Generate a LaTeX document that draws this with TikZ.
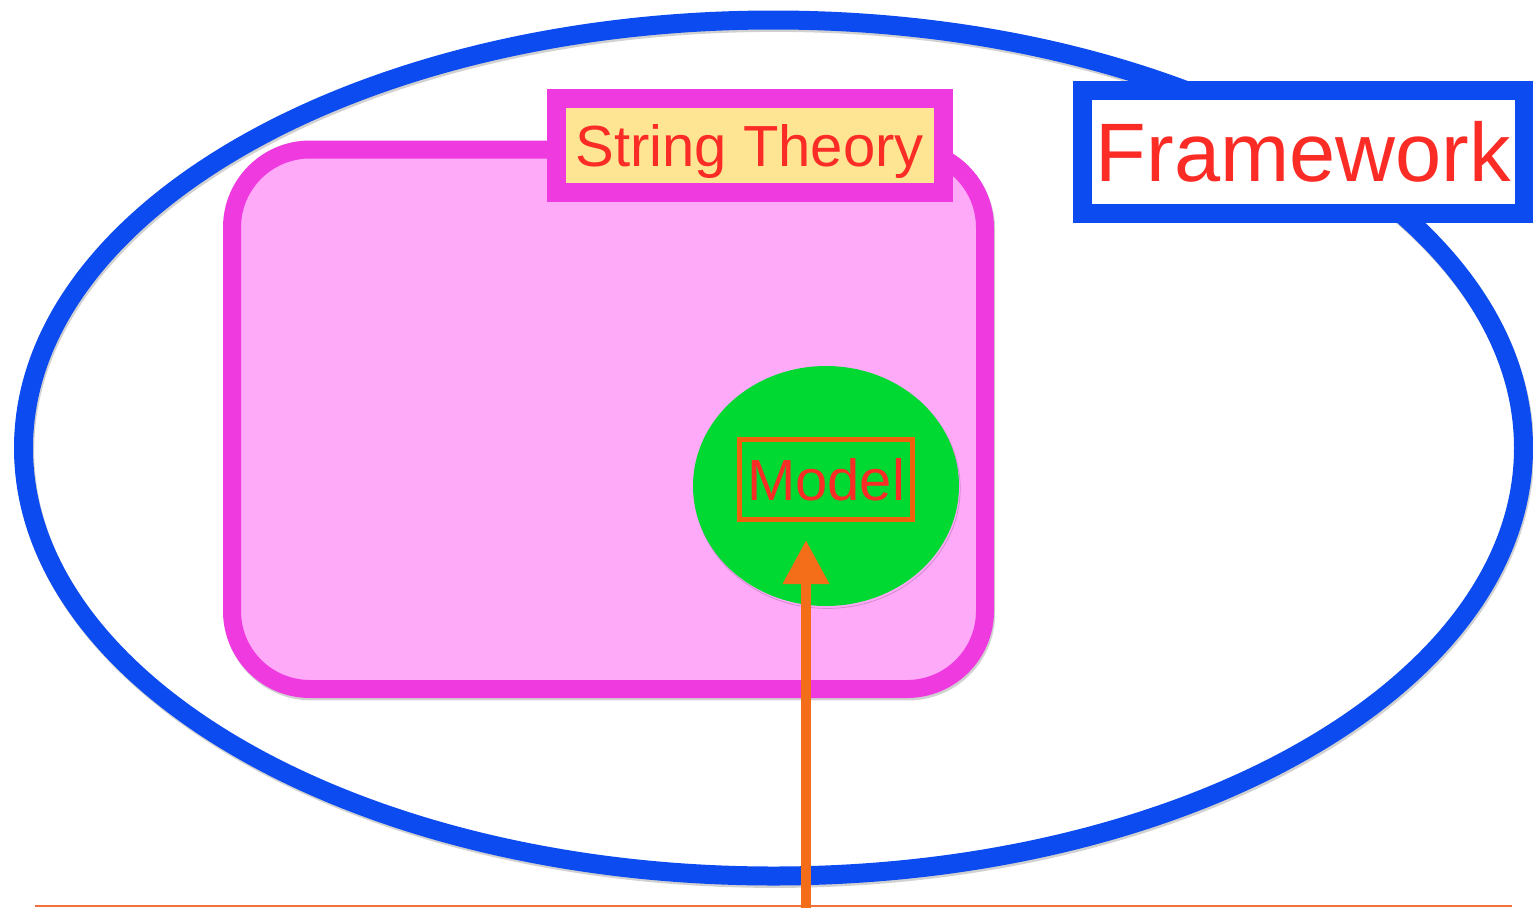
\documentclass[tikz,border=0pt]{standalone}
\usepackage{fontspec}
\setmainfont{Liberation Sans}
\usetikzlibrary{shapes.geometric,arrows.meta}
\definecolor{fwblue}{HTML}{0B4BEF}
\definecolor{stmag}{HTML}{EE3ADF}
\definecolor{stpink}{HTML}{FFA9F9}
\definecolor{styellow}{HTML}{FDE594}
\definecolor{txtred}{HTML}{FB2C26}
\definecolor{mgreen}{HTML}{00D932}
\definecolor{arrorange}{HTML}{F46D19}
\definecolor{boxorange}{HTML}{EF600F}
\definecolor{lineorange}{HTML}{F2703C}
\tikzset{
  softshadow/.style={preaction={draw=black,draw opacity=0.18,transform canvas={xshift=0.6pt,yshift=-1.2pt}}},
  labeltext/.style={text=txtred,inner sep=0pt,outer sep=0pt},
}
\begin{document}
\begin{tikzpicture}[x=0.5pt,y=-0.5pt]
\useasboundingbox (0,0) rectangle (1533,907);
% big framework ellipse
\node[ellipse, draw=fwblue, line width=9.5pt, softshadow, minimum width=750pt, minimum height=428pt, inner sep=0pt, outer sep=0pt] (fw) at (773.5,448) {};
% string theory rounded rectangle
\node[rectangle, rounded corners=39pt, draw=stmag, fill=stpink, line width=9pt, softshadow, minimum width=376.5pt, minimum height=269.75pt, inner sep=0pt, outer sep=0pt] (st) at (608.5,419.25) {};
% string theory label
\node[rectangle, draw=stmag, fill=styellow, line width=9.5pt, minimum width=193.25pt, minimum height=46.75pt, inner sep=0pt, text=txtred, text height=20.8pt, text depth=0pt, font=\fontsize{29pt}{34pt}\selectfont] (stlabel) at (749.75,145.25) {String Theory};
% framework label
\node[rectangle, draw=fwblue, fill=white, line width=9.5pt, minimum width=221pt, minimum height=61.5pt, inner sep=0pt, text=txtred, text height=29.7pt, text depth=0pt, font=\fontsize{41.5pt}{48pt}\selectfont] (fwlabel) at (1303.5,152) {Framework};
% model ellipse
\node[ellipse, fill=mgreen, softshadow, minimum width=133pt, minimum height=120pt, inner sep=0pt, outer sep=0pt] (mell) at (826,486) {};
% model box
\node[rectangle, draw=boxorange, line width=2.5pt, minimum width=86.5pt, minimum height=40pt, inner sep=0pt, text=txtred, text height=20.8pt, text depth=0pt, font=\fontsize{29pt}{34pt}\selectfont] (model) at (826,479.5) {Model};
% baseline
\coordinate (lineL) at (35,905.5);
\coordinate (lineR) at (1512,905.5);
\draw[lineorange, line width=1pt] (lineL) -- (lineR);
% arrow
\coordinate (abase) at (806,910);
\draw[arrorange, line width=5pt, -{Triangle[length=22pt,width=22pt]}, shorten >=9pt] (abase) -- (abase |- model.south);
\end{tikzpicture}
\end{document}
